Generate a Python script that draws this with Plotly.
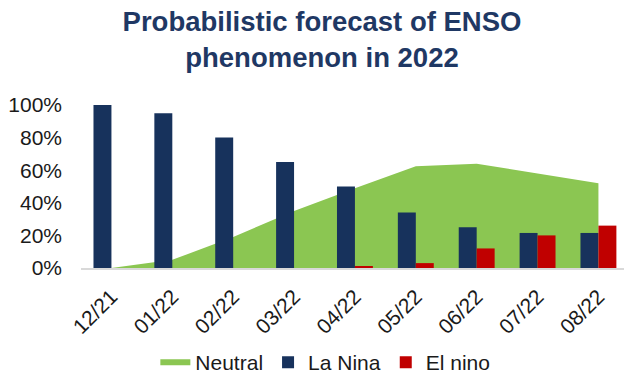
import plotly.graph_objects as go

categories = ["12/21", "01/22", "02/22", "03/22", "04/22", "05/22", "06/22", "07/22", "08/22"]
neutral = [0.00, 0.05, 0.19, 0.35, 0.49, 0.625, 0.64, 0.58, 0.52]
la_nina = [1.00, 0.95, 0.80, 0.65, 0.50, 0.34, 0.25, 0.215, 0.215]
el_nino = [0.00, 0.00, 0.00, 0.00, 0.01, 0.03, 0.12, 0.20, 0.26]

GREEN = "#8BC652"
NAVY = "#17325C"
RED = "#C00000"
FONT = "Liberation Sans, Arial, sans-serif"

fig = go.Figure()
fig.add_trace(go.Scatter(
    x=categories, y=neutral, name="Neutral", mode="none",
    fill="tozeroy", fillcolor=GREEN, xaxis="x", yaxis="y",
))
fig.add_trace(go.Bar(
    x=categories, y=la_nina, name="La Nina", marker_color=NAVY,
    marker_line_width=0, xaxis="x2", yaxis="y2",
))
fig.add_trace(go.Bar(
    x=categories, y=el_nino, name="El nino", marker_color=RED,
    marker_line_width=0, xaxis="x2", yaxis="y2",
))

xr = [-0.5, 8.42]
yr = [0, 1]
fig.update_layout(
    width=624, height=383,
    margin=dict(l=81, r=0, t=105, b=115),
    paper_bgcolor="white", plot_bgcolor="white",
    font=dict(family=FONT, size=20, color="#1a1a1a"),
    title=dict(
        text="<b>Probabilistic forecast of ENSO<br>phenomenon in 2022</b>",
        x=322 / 624, xanchor="center", xref="container",
        y=1 - 31 / 383, yanchor="middle", yref="container",
        font=dict(family=FONT, size=27.5, color="#1F3864"),
    ),
    barmode="group", bargap=0.41, bargroupgap=0,
    xaxis=dict(
        type="category", categoryorder="array", categoryarray=categories,
        range=xr, showgrid=False, showline=True, linecolor="#D9D9D9",
        linewidth=2, tickangle=-45, ticks="", ticklabelstandoff=6,
        tickfont=dict(size=21),
    ),
    yaxis=dict(
        range=yr, showgrid=False, zeroline=False, showline=False,
        tickformat=".0%", dtick=0.2, tickmode="linear", tick0=0,
        ticklabelstandoff=18, tickfont=dict(size=21),
    ),
    xaxis2=dict(
        type="category", categoryorder="array", categoryarray=categories,
        range=xr, overlaying="x", visible=False,
    ),
    yaxis2=dict(range=yr, overlaying="y", visible=False),
    legend=dict(
        orientation="h", x=0.45, xanchor="center", y=-0.005, yref="container",
        yanchor="bottom", font=dict(size=21), itemwidth=30,
        traceorder="normal",
    ),
    showlegend=True,
)

fig.write_html("out.html")
